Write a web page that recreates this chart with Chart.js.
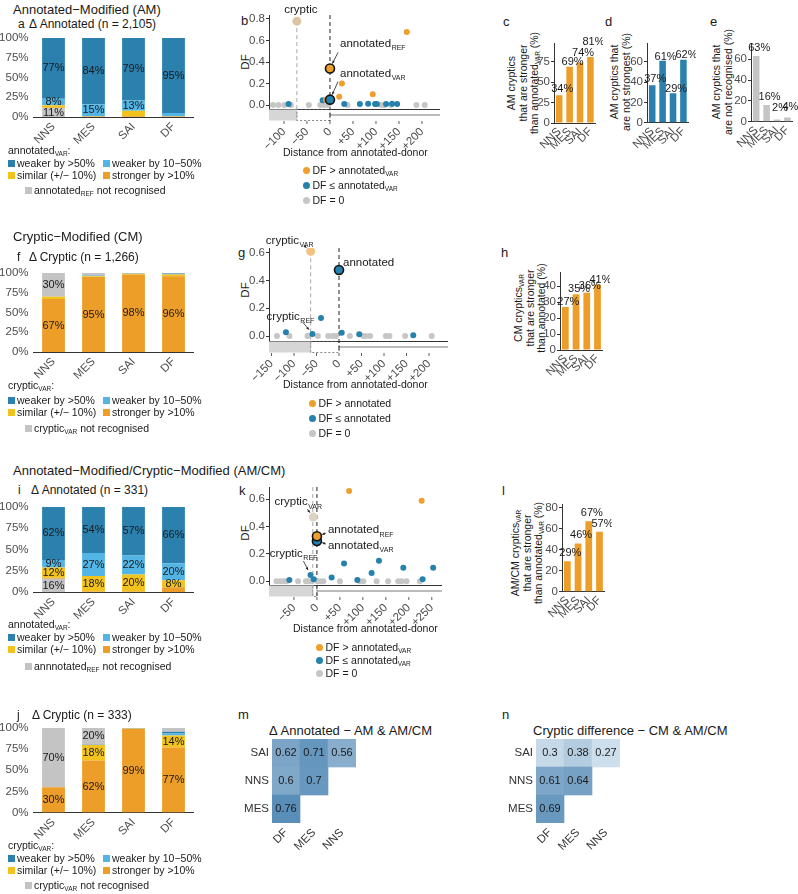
<!DOCTYPE html>
<html>
<head>
<meta charset="utf-8">
<title>Splice-site strength panels</title>
<script src="https://cdn.jsdelivr.net/npm/chart.js@4.4.1/dist/chart.umd.min.js"></script>
<style>
  body { margin: 0; background: #fff; }
  #page { position: relative; width: 798px; height: 894px; overflow: hidden;
          font-family: "Liberation Sans", Arial, sans-serif; color: #1a1a1a; }
  #page canvas { position: absolute; }
  .t { position: absolute; white-space: nowrap; line-height: 1; }
  .v { position: absolute; white-space: nowrap; text-align: center; line-height: 1.1;
       transform: translate(-50%, -50%) rotate(-90deg); }
  .sb { font-size: 0.62em; position: relative; top: 0.35em; }
  .sq { display: inline-block; width: 7px; height: 7px; margin-right: 2px; }
  .dt { display: inline-block; width: 7px; height: 7px; border-radius: 50%; margin-right: 3px; }
</style>
</head>
<body>
<div id="page"></div>
<script>
// ---- data ----
const groups = ['NNS', 'MES', 'SAI', 'DF'];
const pctTicks = [0, 25, 50, 75, 100];

// a: Δ Annotated, AM (n = 2,105)
const aWeak50 = [77, 84, 79, 95];
const aWeak10 = [8, 15, 13, 4];
const aSimilar = [3, 0.5, 7, 0.5];
const aStronger = [1, 0.5, 1, 0.5];
const aNotRec = [11, 0, 0, 0];

// f: Δ Cryptic, CM (n = 1,266)
const fStronger = [67, 95, 98, 96];
const fSimilar = [3, 1, 1, 2];
const fWeak10 = [0, 0.5, 0.5, 0.5];
const fWeak50 = [0, 0.3, 0.3, 1];
const fNotRec = [30, 3.2, 0.2, 0.5];

// i: Δ Annotated, AM/CM (n = 331)
const iWeak50 = [62, 54, 57, 66];
const iWeak10 = [9, 27, 22, 20];
const iSimilar = [12, 18, 20, 8];
const iStronger = [1, 1, 1, 6];
const iNotRec = [16, 0, 0, 0];

// j: Δ Cryptic, AM/CM (n = 333)
const jStronger = [30, 61.6, 99, 77];
const jSimilar = [0, 18.2, 0.5, 14];
const jWeak10 = [0, 0.2, 0.3, 2.5];
const jWeak50 = [0, 0.2, 0.2, 2];
const jNotRec = [70, 19.8, 0, 4.5];

// c, d, e, h, l: single-series percentages
const cStronger = [34, 69, 74, 81];
const dNotStrongest = [37, 61, 29, 62];
const eNotRecognised = [63, 16, 2, 4];
const hStronger = [27, 35, 36, 41];
const lStronger = [29, 46, 67, 57];

// b: DF vs distance from annotated donor (AM)
const bUpX = [-9, 20, 26, 93, 167];
const bUpY = [0.05, 0.077, 0.2, 0.1, 0.68];
const bDownX = [-90, -16, 31, 65, 83, 98, 102, 122, 135, 146];
const bDownY = [0.01, 0.045, 0.01, 0.01, 0.012, 0.01, 0.01, 0.01, 0.012, 0.01];
const bZeroX = [-124, -112, -99, -85, -46, -21, -12, -4, 38, 111, 118, 133, 188, 206];
const bCryptic = [-72, 0.78];
const bAnnotRef = [0, 0.34];
const bAnnotVar = [0, 0.05];
const bTicks = [-100, -50, 0, 50, 100, 150, 200];

// g: CM
const gDownX = [-118, -59, -40, 6, 45, 165];
const gDownY = [0.027, 0.015, 0.13, 0.024, 0.012, 0.005];
const gZeroX = [-138, -110, -70, -47, -24, -14, -7, 24, 54, 59, 69, 104, 112, 147, 206];
const gCrypticVar = [-63, 0.61];
const gAnnot = [0, 0.475];
const gTicks = [-150, -100, -50, 0, 50, 100, 150, 200];

// k: AM/CM
const kUpX = [70, 228];
const kUpY = [0.66, 0.59];
const kDownX = [-60, -14, -7, 32, 59, 88, 119, 135, 188, 230, 253];
const kDownY = [0.01, 0.046, 0.015, 0.027, 0.13, 0.01, 0.06, 0.15, 0.1, 0.015, 0.1];
const kZeroX = [-88, -80, -73, -66, -41, -24, -19, -11, 1, 7, 14, 50, 93, 101, 130, 155, 177, 184, 195, 224];
const kCrypticVar = [-8, 0.47];
const kAnnotRef = [0, 0.33];
const kAnnotVar = [0, 0.295];
const kTicks = [-50, 0, 50, 100, 150, 200, 250];

const dfTicksB = [0, 0.2, 0.4, 0.6, 0.8];
const dfTicks = [0, 0.2, 0.4, 0.6];

// m, n: heatmaps, rows bottom to top
const heatCols = ['DF', 'MES', 'NNS'];
const heatRows = ['MES', 'NNS', 'SAI'];
const mMES = [0.76];
const mNNS = [0.6, 0.7];
const mSAI = [0.62, 0.71, 0.56];
const nMES = [0.69];
const nNNS = [0.61, 0.64];
const nSAI = [0.3, 0.38, 0.27];

// ---- setup ----
const FONT = '"Liberation Sans", Arial, sans-serif';
Chart.defaults.font.family = FONT;
Chart.defaults.font.size = 11.5;
Chart.defaults.color = '#4d4d4d';
Chart.defaults.animation = false;
Chart.defaults.responsive = false;
Chart.defaults.plugins.legend.display = false;
Chart.defaults.plugins.tooltip.enabled = false;

const C = { dark: '#2b80ad', light: '#53b5e5', yellow: '#f2c31c', orange: '#ed9e28', grey: '#c4c4c4' };
const S = { up: '#ef9f2c', down: '#2581ad', zero: '#c6c6c6' };

const page = document.getElementById('page');
const sub = s => `<span class="sb">${s}</span>`;
const sq = c => `<i class="sq" style="background:${c}"></i>`;
const dot = c => `<i class="dt" style="background:${c}"></i>`;

function put(html, x, y, size) {
  const d = document.createElement('div');
  d.className = 't';
  d.style.left = x + 'px';
  d.style.top = (y - size / 2) + 'px';
  d.style.fontSize = size + 'px';
  d.innerHTML = html;
  page.appendChild(d);
}

function vt(html, x, y, size) {
  const d = document.createElement('div');
  d.className = 'v';
  d.style.left = x + 'px';
  d.style.top = y + 'px';
  d.style.fontSize = size + 'px';
  d.innerHTML = html;
  page.appendChild(d);
}

// canvas placed so the chart area lands on the given box
function frame(area, yw, xh) {
  const pt = 14, x = area.l - yw, y = area.t - pt;
  const w = Math.round(area.r + 6 - x), h = Math.round(area.b + xh - y);
  const c = document.createElement('canvas');
  c.width = w; c.height = h;
  c.style.left = x + 'px'; c.style.top = y + 'px';
  page.appendChild(c);
  return { canvas: c, pad: { top: pt, right: x + w - area.r, left: 0, bottom: 0 }, yw, xh: y + h - area.b };
}

// ---- plugins ----
const segLabels = {
  id: 'segLabels',
  afterDatasetsDraw(chart) {
    const { ctx } = chart;
    ctx.save();
    ctx.font = '11px ' + FONT;
    ctx.fillStyle = '#1a1a1a';
    ctx.textAlign = 'center';
    ctx.textBaseline = 'middle';
    chart.data.datasets.forEach((ds, i) => {
      chart.getDatasetMeta(i).data.forEach((bar, j) => {
        const v = ds.data[j];
        if (v >= 7.5) ctx.fillText(Math.round(v) + '%', bar.x, (bar.y + bar.base) / 2);
      });
    });
    ctx.restore();
  }
};

function topLabels(lift) {
  return {
    id: 'topLabels',
    afterDatasetsDraw(chart) {
      const { ctx } = chart;
      const ds = chart.data.datasets[0];
      ctx.save();
      ctx.font = '11px ' + FONT;
      ctx.fillStyle = '#1a1a1a';
      ctx.textAlign = 'center';
      ctx.textBaseline = 'middle';
      chart.getDatasetMeta(0).data.forEach((bar, i) => ctx.fillText(ds.data[i] + '%', bar.x + 3, bar.y - lift[i]));
      ctx.restore();
    }
  };
}

// gene sketch under the axis + dashed site lines
function genePlugin(g) {
  return {
    id: 'gene',
    beforeDatasetsDraw(chart) {
      const { ctx, chartArea: a, scales: { x, y } } = chart;
      const xc = x.getPixelForValue(g.cryptic), x0 = x.getPixelForValue(0), b = a.bottom;
      ctx.save();
      ctx.fillStyle = '#d6d6d6';
      ctx.fillRect(a.left, b + 0.5, xc - a.left, 11);
      ctx.strokeStyle = '#666'; ctx.lineWidth = 0.8; ctx.setLineDash([2, 2]);
      ctx.strokeRect(xc, b + 0.5, x0 - xc, 11);
      ctx.setLineDash([]);
      ctx.strokeStyle = '#555';
      ctx.beginPath(); ctx.moveTo(x0, b + 6); ctx.lineTo(a.right, b + 6); ctx.stroke();
      ctx.strokeStyle = '#333';
      x.ticks.forEach(t => {
        const tx = x.getPixelForValue(t.value);
        ctx.beginPath(); ctx.moveTo(tx, b + 12); ctx.lineTo(tx, b + 15); ctx.stroke();
      });
      ctx.setLineDash([4, 3]); ctx.lineWidth = 1;
      ctx.strokeStyle = '#a8a8a8';
      ctx.beginPath();
      ctx.moveTo(xc, g.from == null ? a.top : y.getPixelForValue(g.from));
      ctx.lineTo(xc, b + 12); ctx.stroke();
      ctx.strokeStyle = '#222';
      ctx.beginPath(); ctx.moveTo(x0, a.top); ctx.lineTo(x0, b + 12); ctx.stroke();
      ctx.restore();
    }
  };
}

function notesPlugin(items) {
  return {
    id: 'notes',
    afterDatasetsDraw(chart) {
      const { ctx, scales: { x, y } } = chart;
      ctx.save();
      for (const n of items) {
        const px = x.getPixelForValue(n.x), py = y.getPixelForValue(n.y);
        if (n.ax !== undefined) {
          const sx = px + n.ax, sy = py + n.ay;
          const ang = Math.atan2(py - sy, px - sx);
          const ex = px - Math.cos(ang) * 5.5, ey = py - Math.sin(ang) * 5.5;
          ctx.strokeStyle = '#222'; ctx.fillStyle = '#222'; ctx.lineWidth = 0.8;
          ctx.beginPath(); ctx.moveTo(sx, sy); ctx.lineTo(ex, ey); ctx.stroke();
          ctx.beginPath(); ctx.moveTo(ex, ey);
          ctx.lineTo(ex - 3 * Math.cos(ang - 0.45), ey - 3 * Math.sin(ang - 0.45));
          ctx.lineTo(ex - 3 * Math.cos(ang + 0.45), ey - 3 * Math.sin(ang + 0.45));
          ctx.closePath(); ctx.fill();
        }
        ctx.font = '11.5px ' + FONT;
        const w1 = ctx.measureText(n.text).width;
        ctx.font = '7px ' + FONT;
        const w2 = n.sub ? ctx.measureText(n.sub).width + 0.5 : 0;
        let tx = px + n.dx;
        if (n.align === 'center') tx -= (w1 + w2) / 2;
        const ty = py + n.dy;
        ctx.fillStyle = '#1a1a1a'; ctx.textAlign = 'left'; ctx.textBaseline = 'middle';
        ctx.font = '11.5px ' + FONT;
        ctx.fillText(n.text, tx, ty);
        if (n.sub) { ctx.font = '7px ' + FONT; ctx.fillText(n.sub, tx + w1 + 0.5, ty + 4.5); }
      }
      ctx.restore();
    }
  };
}

function cellText(rows) {
  return {
    id: 'cellText',
    afterDatasetsDraw(chart) {
      const { ctx } = chart;
      ctx.save();
      ctx.font = '11px ' + FONT;
      ctx.fillStyle = '#1a1a1a';
      ctx.textAlign = 'center';
      ctx.textBaseline = 'middle';
      rows.forEach((vals, r) => {
        chart.getDatasetMeta(r).data.forEach((bar, c) => {
          if (c < vals.length) ctx.fillText(String(vals[c]), bar.x, (bar.y + bar.base) / 2);
        });
      });
      ctx.restore();
    }
  };
}

// ---- panel builders ----
function stackPanel(area, series) {
  const f = frame(area, 33.5, 31);
  return new Chart(f.canvas, {
    type: 'bar',
    plugins: [segLabels],
    data: {
      labels: groups,
      datasets: series.map(([data, color]) => ({ data, backgroundColor: color, barPercentage: 0.57, categoryPercentage: 1 }))
    },
    options: {
      layout: { padding: f.pad },
      scales: {
        x: {
          stacked: true,
          grid: { display: false, drawTicks: false },
          border: { color: '#333' },
          ticks: { minRotation: 45, maxRotation: 45, autoSkip: false, padding: 3 },
          afterFit: s => { s.height = f.xh; }
        },
        y: {
          stacked: true, min: 0, max: 100,
          grid: { display: false, drawTicks: false },
          border: { display: false },
          afterBuildTicks: s => { s.ticks = pctTicks.map(v => ({ value: v })); },
          ticks: { padding: 5, callback: v => v + '%' },
          afterFit: s => { s.width = f.yw; }
        }
      }
    }
  });
}

function pctPanel(area, yw, values, color, max, ticks, lift) {
  const f = frame(area, yw, 27);
  return new Chart(f.canvas, {
    type: 'bar',
    plugins: [topLabels(lift)],
    data: { labels: groups, datasets: [{ data: values, backgroundColor: color, barPercentage: 0.63, categoryPercentage: 1 }] },
    options: {
      layout: { padding: f.pad },
      scales: {
        x: {
          grid: { display: false, drawTicks: false },
          border: { color: '#333' },
          ticks: { minRotation: 45, maxRotation: 45, autoSkip: false, padding: 2 },
          afterFit: s => { s.height = f.xh; }
        },
        y: {
          min: 0, max,
          grid: { drawOnChartArea: false, tickLength: 3, tickColor: '#333' },
          border: { color: '#333' },
          afterBuildTicks: s => { s.ticks = ticks.map(v => ({ value: v })); },
          ticks: { padding: 1 },
          afterFit: s => { s.width = f.yw; }
        }
      }
    }
  });
}

const signed = v => v > 0 ? '+' + v : v < 0 ? '\u2212' + Math.abs(v) : '0';
const pts = (xs, ys) => xs.map((x, i) => ({ x, y: ys ? ys[i] : 0 }));
function dots(data, color, r, border) {
  return {
    data, pointRadius: r, pointHoverRadius: r,
    pointBackgroundColor: color, backgroundColor: color,
    pointBorderColor: border || color, pointBorderWidth: border ? 1.6 : 0
  };
}

function scatterPanel(area, xr, xTicks, yr, yTicks, datasets, gene, notes) {
  const f = frame(area, 29, 41);
  return new Chart(f.canvas, {
    type: 'scatter',
    plugins: [genePlugin(gene), notesPlugin(notes)],
    data: { datasets },
    options: {
      layout: { padding: f.pad },
      scales: {
        x: {
          type: 'linear', min: xr[0], max: xr[1],
          grid: { drawOnChartArea: false, tickLength: 15, tickColor: 'rgba(0,0,0,0)' },
          border: { color: '#333' },
          afterBuildTicks: s => { s.ticks = xTicks.map(v => ({ value: v })); },
          ticks: { minRotation: 45, maxRotation: 45, autoSkip: false, padding: 1, callback: signed },
          afterFit: s => { s.height = f.xh; }
        },
        y: {
          min: yr[0], max: yr[1],
          grid: { drawOnChartArea: false, tickLength: 3, tickColor: '#333' },
          border: { color: '#333' },
          afterBuildTicks: s => { s.ticks = yTicks.map(v => ({ value: v })); },
          ticks: { padding: 1, callback: v => v.toFixed(1) },
          afterFit: s => { s.width = f.yw; }
        }
      }
    }
  });
}

function heatColor(v) {
  const t = Math.max(0, Math.min(1, (v - 0.25) / 0.55));
  const lo = [210, 225, 238], hi = [80, 135, 180];
  return 'rgb(' + lo.map((c, i) => Math.round(c + (hi[i] - c) * t)).join(',') + ')';
}

function heatPanel(area, rows) {
  const f = frame(area, 36, 27);
  return new Chart(f.canvas, {
    type: 'bar',
    plugins: [cellText(rows)],
    data: {
      labels: heatCols,
      datasets: rows.map((vals, r) => ({
        data: heatCols.map((_, c) => c < vals.length ? [r, r + 1] : null),
        backgroundColor: heatCols.map((_, c) => c < vals.length ? heatColor(vals[c]) : 'rgba(0,0,0,0)'),
        grouped: false, barPercentage: 1, categoryPercentage: 1
      }))
    },
    options: {
      layout: { padding: f.pad },
      scales: {
        x: {
          grid: { display: false, drawTicks: false },
          border: { display: false },
          ticks: { color: '#333', minRotation: 45, maxRotation: 45, autoSkip: false, padding: 3 },
          afterFit: s => { s.height = f.xh; }
        },
        y: {
          min: 0, max: heatRows.length,
          grid: { display: false, drawTicks: false },
          border: { display: false },
          afterBuildTicks: s => { s.ticks = heatRows.map((_, i) => ({ value: i + 0.5 })); },
          ticks: { color: '#333', padding: 3, callback: (v, i) => heatRows[i] },
          afterFit: s => { s.width = f.yw; }
        }
      }
    }
  });
}

function barLegend(title, lastItem, y0, y1, y2, y3) {
  put(title + ':', 8, y0, 10.5);
  put(sq(C.dark) + 'weaker by &gt;50%', 8, y1, 10.5);
  put(sq(C.light) + 'weaker by 10\u221250%', 103, y1, 10.5);
  put(sq(C.yellow) + 'similar (+/\u2212 10%)', 8, y2, 10.5);
  put(sq(C.orange) + 'stronger by &gt;10%', 103, y2, 10.5);
  put(sq(C.grey) + lastItem + ' not recognised', 25, y3, 10.5);
}

function dotLegend(x, ys, labels) {
  const cols = [S.up, S.down, S.zero];
  labels.forEach((l, i) => put(dot(cols[i]) + l, x - 3.5, ys[i], 10.5));
}

// ---- row 1: AM ----
put('Annotated\u2212Modified (AM)', 13, 9, 13);
put('a', 18, 23.5, 12);
put('\u0394 Annotated (n = 2,105)', 29, 23.5, 12);
stackPanel({ l: 33.5, t: 38, r: 193.5, b: 117 },
  [[aNotRec, C.grey], [aStronger, C.orange], [aSimilar, C.yellow], [aWeak10, C.light], [aWeak50, C.dark]]);
barLegend('annotated' + sub('VAR'), 'annotated' + sub('REF'), 150, 163, 175, 190);

put('b', 241, 20, 13);
vt('DF', 245, 62, 11.5);
scatterPanel({ l: 269, t: 15, r: 440, b: 109 }, [-132.6, 239], bTicks, [-0.037, 0.837], dfTicksB, [
  dots([{ x: bAnnotRef[0], y: bAnnotRef[1] }], S.up, 4.5, '#111'),
  dots([{ x: bAnnotVar[0], y: bAnnotVar[1] }], S.down, 4.5, '#111'),
  dots([{ x: bCryptic[0], y: bCryptic[1] }], '#dac5a3', 4.5),
  dots(pts(bUpX, bUpY), S.up, 3),
  dots(pts(bDownX, bDownY), S.down, 3),
  dots(pts(bZeroX), S.zero, 3)
], { cryptic: bCryptic[0], from: bCryptic[1] }, [
  { x: bCryptic[0], y: bCryptic[1], text: 'cryptic', dx: 4, dy: -11, align: 'center' },
  { x: bAnnotRef[0], y: bAnnotRef[1], text: 'annotated', sub: 'REF', dx: 10, dy: -25, ax: 8, ay: -16 },
  { x: bAnnotVar[0], y: bAnnotVar[1], text: 'annotated', sub: 'VAR', dx: 10, dy: -26, ax: 8, ay: -18 }
]);
put('Distance from annotated-donor', 283, 152, 10.5);
dotLegend(306, [170, 185, 200], ['DF &gt; annotated' + sub('VAR'), 'DF \u2264 annotated' + sub('VAR'), 'DF = 0']);

put('c', 503, 21, 13);
vt('AM cryptics<br>that are stronger<br>than annotated' + sub('VAR') + ' (%)', 523, 83, 10.5);
pctPanel({ l: 554, t: 43, r: 596.5, b: 123 }, 24, cStronger, C.orange, 98, [0, 25, 50, 75], [6, 5, 10, 15]);

put('d', 605, 21, 13);
vt('AM cryptics that<br>are not strongest (%)', 620.5, 82, 10.5);
pctPanel({ l: 647, t: 43, r: 689.5, b: 122.7 }, 22, dNotStrongest, C.dark, 78.5, [0, 20, 40, 60], [6, 4, 4, 5]);

put('e', 710, 21, 13);
vt('AM cryptics that<br>are not recognised (%)', 723.3, 82, 10.5);
pctPanel({ l: 751, t: 43, r: 793.5, b: 121.7 }, 23, eNotRecognised, C.grey, 75.5, [0, 20, 40, 60], [8, 8, 12, 11]);

// ---- row 2: CM ----
put('Cryptic\u2212Modified (CM)', 13, 236.7, 13);
put('f', 17, 257.3, 12);
put('\u0394 Cryptic (n = 1,266)', 29, 257.3, 12);
stackPanel({ l: 33.5, t: 272.7, r: 193.5, b: 351.7 },
  [[fStronger, C.orange], [fSimilar, C.yellow], [fWeak10, C.light], [fWeak50, C.dark], [fNotRec, C.grey]]);
barLegend('cryptic' + sub('VAR'), 'cryptic' + sub('VAR'), 385, 400.7, 412.7, 428.3);

put('g', 238, 252, 13);
vt('DF', 245, 290, 11.5);
scatterPanel({ l: 269, t: 248, r: 448, b: 341 }, [-155.6, 242], gTicks, [-0.036, 0.634], dfTicks, [
  dots([{ x: gAnnot[0], y: gAnnot[1] }], S.down, 4.5, '#111'),
  dots([{ x: gCrypticVar[0], y: gCrypticVar[1] }], '#f3c27e', 4.5),
  dots(pts(gDownX, gDownY), S.down, 3),
  dots(pts(gZeroX), S.zero, 3)
], { cryptic: gCrypticVar[0], from: gCrypticVar[1] }, [
  { x: gCrypticVar[0], y: gCrypticVar[1], text: 'cryptic', sub: 'VAR', dx: -21, dy: -11, align: 'center', ax: -7, ay: -6 },
  { x: gAnnot[0], y: gAnnot[1], text: 'annotated', dx: 4, dy: -7 },
  { x: gDownX[1], y: gDownY[1], text: 'cryptic', sub: 'REF', dx: -22, dy: -17, align: 'center', ax: -10, ay: -12 }
]);
put('Distance from annotated-donor', 283, 384, 10.5);
dotLegend(312, [403, 418, 433], ['DF &gt; annotated', 'DF \u2264 annotated', 'DF = 0']);

put('h', 501, 252, 13);
vt('CM cryptics' + sub('VAR') + '<br>that are stronger<br>than annotated (%)', 530, 308, 10.5);
pctPanel({ l: 560, t: 272, r: 604, b: 350 }, 24, hStronger, C.orange, 49, [0, 10, 20, 30, 40], [5, 5, 7, 5]);

// ---- row 3: AM/CM ----
put('Annotated\u2212Modified/Cryptic\u2212Modified (AM/CM)', 13, 470, 13);
put('i', 18, 490, 12);
put('\u0394 Annotated (n = 331)', 31, 490, 12);
stackPanel({ l: 33.5, t: 506.7, r: 193.5, b: 592 },
  [[iNotRec, C.grey], [iStronger, C.orange], [iSimilar, C.yellow], [iWeak10, C.light], [iWeak50, C.dark]]);
barLegend('annotated' + sub('VAR'), 'annnotated' + sub('REF'), 624, 637, 649, 666);

put('k', 239, 490, 13);
vt('DF', 245, 533, 11.5);
scatterPanel({ l: 269, t: 487, r: 442, b: 585 }, [-104.3, 272], kTicks, [-0.027, 0.69], dfTicks, [
  dots([{ x: kAnnotRef[0], y: kAnnotRef[1] }], S.up, 4.5, '#111'),
  dots([{ x: kAnnotVar[0], y: kAnnotVar[1] }], S.down, 4.5, '#111'),
  dots([{ x: kCrypticVar[0], y: kCrypticVar[1] }], '#ddd2c4', 4.5),
  dots(pts(kUpX, kUpY), S.up, 3),
  dots(pts(kDownX, kDownY), S.down, 3),
  dots(pts(kZeroX), S.zero, 3)
], { cryptic: -9, from: null }, [
  { x: kCrypticVar[0], y: kCrypticVar[1], text: 'cryptic', sub: 'VAR', dx: -15, dy: -15, align: 'center', ax: -6, ay: -8 },
  { x: kAnnotRef[0], y: kAnnotRef[1], text: 'annotated', sub: 'REF', dx: 11, dy: -6, ax: 9, ay: -3 },
  { x: kAnnotVar[0], y: kAnnotVar[1], text: 'annotated', sub: 'VAR', dx: 11, dy: 5, ax: 9, ay: 3 },
  { x: kDownX[1], y: kDownY[1], text: 'cryptic', sub: 'REF', dx: -17, dy: -21, align: 'center', ax: -7, ay: -14 }
]);
put('Distance from annotated-donor', 293, 628, 10.5);
dotLegend(319, [647, 660, 673], ['DF &gt; annotated' + sub('VAR'), 'DF \u2264 annotated' + sub('VAR'), 'DF = 0']);

put('l', 502, 490, 13);
vt('AM/CM cryptics' + sub('VAR') + '<br>that are stronger<br>than annotated' + sub('VAR') + ' (%)', 527, 553, 10.5);
pctPanel({ l: 562, t: 504, r: 606, b: 591.7 }, 24, lStronger, C.orange, 83.5, [0, 20, 40, 60, 80], [8, 8, 8, 8]);

// ---- row 4: j, m, n ----
put('j', 17, 715, 12);
put('\u0394 Cryptic (n = 333)', 32, 715, 12);
stackPanel({ l: 33.5, t: 727.7, r: 193.5, b: 812.3 },
  [[jStronger, C.orange], [jSimilar, C.yellow], [jWeak10, C.light], [jWeak50, C.dark], [jNotRec, C.grey]]);
barLegend('cryptic' + sub('VAR'), 'cryptic' + sub('VAR'), 845, 858, 870, 885);

put('m', 238, 714, 13);
put('\u0394 Annotated \u2212 AM &amp; AM/CM', 269, 730, 13);
heatPanel({ l: 272, t: 739.3, r: 356, b: 823.3 }, [mMES, mNNS, mSAI]);

put('n', 502, 714, 13);
put('Cryptic difference \u2212 CM &amp; AM/CM', 533, 730, 13);
heatPanel({ l: 536, t: 739.3, r: 620, b: 823.3 }, [nMES, nNNS, nSAI]);
</script>
</body>
</html>
